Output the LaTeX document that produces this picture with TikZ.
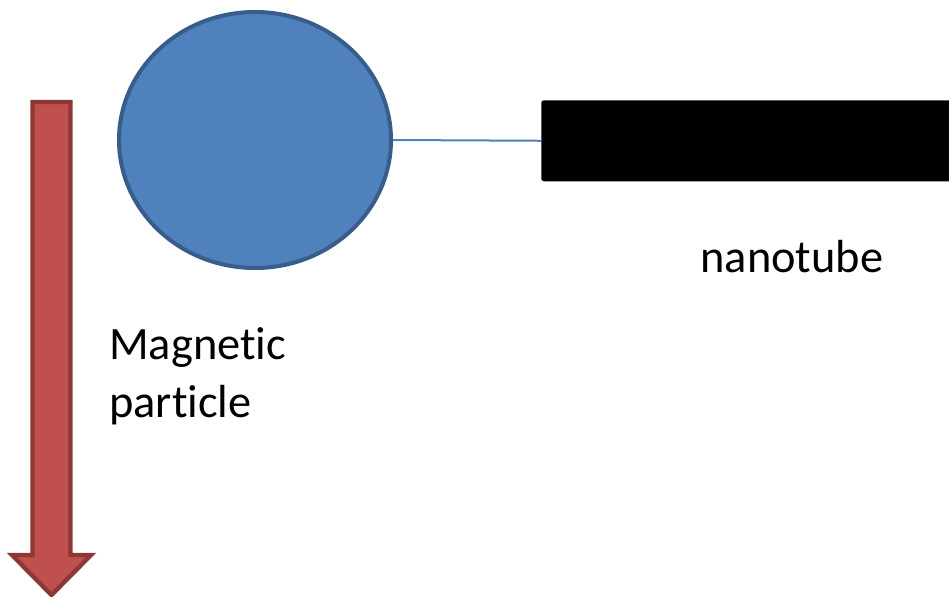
\documentclass[tikz,border=0pt]{standalone}
\usepackage{fontspec}
\setmainfont[Ligatures={NoCommon}]{Carlito}
\usetikzlibrary{shapes.geometric}
\definecolor{ballfill}{HTML}{4F81BD}
\definecolor{balledge}{HTML}{385D8A}
\definecolor{arrowfill}{HTML}{C0504D}
\definecolor{arrowedge}{HTML}{8C3836}
\tikzset{
  lbl/.style={font=\fontsize{34.8}{43.5}\selectfont, inner sep=0pt, text=black},
  ball/.style={ellipse, fill=ballfill, draw=balledge, line width=3pt, inner sep=0pt,
    minimum width=204pt, minimum height=192pt},
  tubebox/.style={rectangle, fill=black, rounded corners=2pt, inner sep=0pt,
    minimum width=314pt, minimum height=60.75pt, anchor=north west},
  link/.style={draw=ballfill, line width=1.5pt},
  bigarrow/.style={fill=arrowfill, draw=arrowedge, line width=3.3pt, line join=miter}
}
\begin{document}
\begin{tikzpicture}[x=0.75pt,y=-0.75pt]
\useasboundingbox (0,0) rectangle (949,596);
\clip (0,0) rectangle (949,596);
% downward arrow
\path[bigarrow] (32.5,102) -- (70.5,102) -- (70.5,555) -- (91,555) -- (51.5,595)
  -- (12,555) -- (32.5,555) -- cycle;
% particle and nanotube
\node[ball] (part) at (255,140) {};
\node[tubebox] (tube) at (541,100) {};
\draw[link] (part.east) -- (tube.west);
% labels
\node[lbl, anchor=base] (nt) at (792,272) {nanotube};
\node[lbl, anchor=base west] (mag1) at (109,359) {Magnetic};
\node[lbl, anchor=base west] (mag2) at (109,417) {particle};
\end{tikzpicture}
\end{document}
